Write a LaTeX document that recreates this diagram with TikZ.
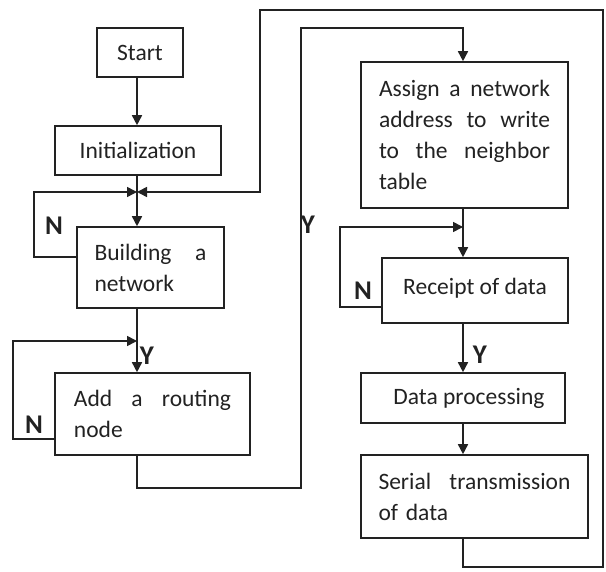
\documentclass[tikz,border=0pt]{standalone}
\usepackage{fontspec}
\setmainfont{Carlito}
\usetikzlibrary{arrows.meta}
\definecolor{ink}{HTML}{222222}
\begin{document}
\begin{tikzpicture}[x=1pt,y=-1pt,
  font=\fontsize{23.5}{31}\selectfont,
  box/.style={draw=ink, line width=1.6pt, inner sep=0pt, text=ink},
  line/.style={draw=ink, line width=1.6pt},
  arr/.style={line, -{Triangle[length=10pt,width=10pt]}},
  yn/.style={text=ink, font=\fontsize{27}{30}\selectfont\bfseries}]
\useasboundingbox[fill=white] (0,0) rectangle (606,572);

% boxes
\node[box, minimum width=86pt, minimum height=49pt] (start) at (140,52.5) {Start};
\node[box, minimum width=166pt, minimum height=49pt] (init) at (138,150.5) {Initialization};
\node[box, minimum width=147pt, minimum height=81pt, text width=112pt, align=left] (build) at (150.5,267.5)
  {Building\hfill a\\network};
\node[box, minimum width=195pt, minimum height=82pt, text width=157pt, align=left] (add) at (152.5,414)
  {Add\hfill a\hfill routing\\node};
\node[box, minimum width=207pt, minimum height=146pt, text width=171pt, align=left] (assign) at (464.5,135)
  {Assign\hfill a\hfill network\\address\hfill to\hfill write\\to\hfill the\hfill neighbor\\table};
\node[box, minimum width=186pt, minimum height=65pt] (receipt) at (475,290.5) {\raisebox{8pt}{Receipt of data}};
\node[box, minimum width=204pt, minimum height=50pt] (proc) at (463,398) {\hspace*{12pt}Data processing};
\node[box, minimum width=227pt, minimum height=83pt, text width=192pt, align=left] (serial) at (474.5,496.5)
  {Serial\hfill transmission\\of data};

% junctions
\coordinate (j1) at (137,192);
\coordinate (j2) at (137,341);
\coordinate (j3) at (463,227);
\coordinate (j4) at (463,28);

% connectors
\draw[arr] (start.south -| j1) -- (init.north -| j1);
\draw[line] (init.south -| j1) -- (j1);
\draw[arr] (j1) -- (build.north -| j1);
\draw[arr] ([yshift=10.5pt]build.west) -- ++(-42,0) |- (j1);
\draw[arr] (serial.south -| j3) |- (603,567) |- (260,10) |- (j1);
\draw[arr] (build.south -| j1) -- (add.north -| j1);
\draw[arr] ([yshift=-25pt]add.west) -- ++(-41,0) |- (j2);
\draw[arr] (add.south -| j1) |- (301,488) |- (j4) -- (assign.north -| j4);
\draw[arr] (assign.south -| j3) -- (receipt.north -| j3);
\draw[arr] ([yshift=-16.5pt]receipt.west) -- ++(-41,0) |- (j3);
\draw[arr] (receipt.south -| j3) -- (proc.north -| j3);
\draw[arr] (proc.south -| j3) -- (serial.north -| j3);

% labels
\node[yn] (n1) at (54,226) {N};
\node[yn] (n2) at (34,425) {N};
\node[yn] (y1) at (147,356) {Y};
\node[yn] (y2) at (308,225) {Y};
\node[yn] (n3) at (363,291) {N};
\node[yn] (y3) at (480,355) {Y};
\end{tikzpicture}
\end{document}
